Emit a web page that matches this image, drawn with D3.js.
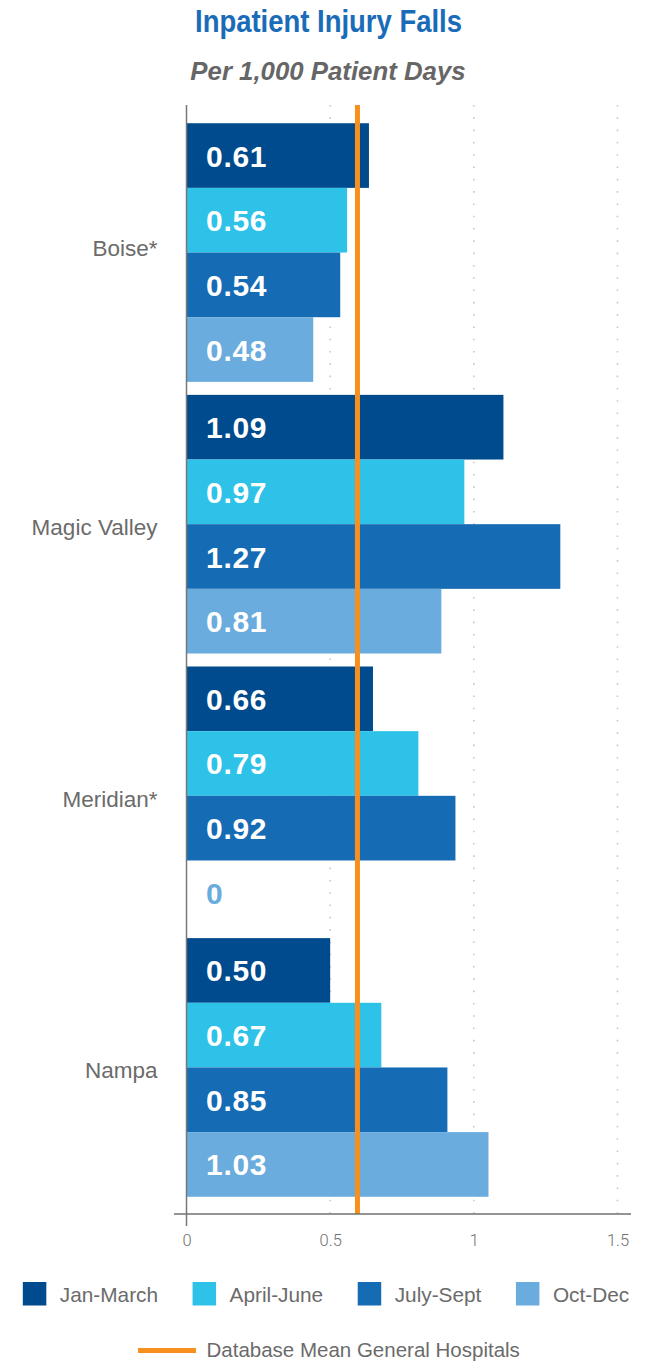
<!DOCTYPE html>
<html>
<head>
<meta charset="utf-8">
<script src="https://cdn.jsdelivr.net/npm/d3@7"></script>
<style>
  html, body { margin: 0; padding: 0; background: #fff; }
  svg { display: block; }
</style>
</head>
<body>
<svg id="chart" width="652" height="1363"></svg>
<script>
// ---- data ----
const categories = ["Boise*", "Magic Valley", "Meridian*", "Nampa"];
const quarters = ["Jan-March", "April-June", "July-Sept", "Oct-Dec"];
// bar lengths as drawn in the picture
const janMarch  = [0.635, 1.103, 0.649, 0.50];
const aprilJune = [0.559, 0.967, 0.807, 0.678];
const julySept  = [0.535, 1.301, 0.936, 0.908];
const octDec    = [0.441, 0.887, 0,     1.051];
// printed labels
const janMarchLabels  = ["0.61", "1.09", "0.66", "0.50"];
const aprilJuneLabels = ["0.56", "0.97", "0.79", "0.67"];
const julySeptLabels  = ["0.54", "1.27", "0.92", "0.85"];
const octDecLabels    = ["0.48", "0.81", "0", "1.03"];
const meanValue = 0.595;
const tickValues = [0, 0.5, 1, 1.5];
const tickLabels = ["0", "0.5", "1", "1.5"];
const titleText = "Inpatient Injury Falls";
const subtitleText = "Per 1,000 Patient Days";
const meanLabel = "Database Mean General Hospitals";

const colors = ["#004b8d", "#2ec2e8", "#166bb5", "#6aacde"];
const seriesValues = [janMarch, aprilJune, julySept, octDec];
const seriesLabels = [janMarchLabels, aprilJuneLabels, julySeptLabels, octDecLabels];

const rows = [];
categories.forEach((c, ci) => {
  quarters.forEach((q, qi) => {
    rows.push({cat: c, q: q, qi: qi, v: seriesValues[qi][ci], label: seriesLabels[qi][ci]});
  });
});

const svg = d3.select("#chart");
const textGray = "#6b6b6b";

// ---- scales ----
const x = d3.scaleLinear().domain([0, 1.5]).range([186.5, 617.5]);
const y = d3.scaleBand().domain(categories).range([106, 1214]).paddingInner(0.0478).paddingOuter(0.0634);
const yq = d3.scaleBand().domain(quarters).range([0, y.bandwidth()]).padding(0);
const plotTop = 105, plotBottom = 1214;

// ---- title ----
svg.append("text")
  .attr("x", 328.5).attr("y", 32)
  .attr("text-anchor", "middle")
  .attr("textLength", 267)
  .attr("lengthAdjust", "spacingAndGlyphs")
  .style("font-family", "'Liberation Sans', Arial, sans-serif")
  .style("font-weight", "bold")
  .style("font-size", "30.5px")
  .attr("fill", "#1a6cb8")
  .text(titleText);

svg.append("text")
  .attr("x", 328).attr("y", 80)
  .attr("text-anchor", "middle")
  .style("font-family", "'Liberation Sans', Arial, sans-serif")
  .style("font-weight", "bold")
  .style("font-style", "italic")
  .style("font-size", "25.8px")
  .attr("fill", "#666666")
  .text(subtitleText);

// ---- gridlines ----
svg.append("g").selectAll("line")
  .data(tickValues.filter(d => d > 0))
  .join("line")
  .attr("x1", d => x(d)).attr("x2", d => x(d))
  .attr("y1", plotTop).attr("y2", plotBottom)
  .attr("stroke", "#c8c8c8")
  .attr("stroke-width", 1.6)
  .attr("stroke-dasharray", "1.6,10.7");

// ---- bars ----
const g = svg.append("g");
g.selectAll("rect")
  .data(rows)
  .join("rect")
  .attr("x", x(0))
  .attr("y", d => y(d.cat) + yq(d.q))
  .attr("width", d => x(d.v) - x(0))
  .attr("height", yq.bandwidth())
  .attr("fill", d => colors[d.qi]);

// ---- mean line ----
svg.append("line")
  .attr("x1", x(meanValue)).attr("x2", x(meanValue))
  .attr("y1", plotTop).attr("y2", plotBottom)
  .attr("stroke", "#f7901e")
  .attr("stroke-width", 5);

// ---- bar labels ----
g.selectAll("text.val")
  .data(rows)
  .join("text")
  .attr("class", "val")
  .attr("x", x(0) + 19.5)
  .attr("y", d => y(d.cat) + yq(d.q) + yq.bandwidth() / 2 + 11)
  .style("font-family", "'Liberation Sans', Arial, sans-serif")
  .style("font-weight", "bold")
  .style("font-size", "30px")
  .style("letter-spacing", "0.7px")
  .attr("fill", d => d.v === 0 ? colors[d.qi] : "#ffffff")
  .text(d => d.label);

// ---- axes ----
svg.append("line")
  .attr("x1", 174).attr("x2", 631)
  .attr("y1", plotBottom).attr("y2", plotBottom)
  .attr("stroke", "#707070").attr("stroke-width", 1.5);
svg.append("line")
  .attr("x1", x(0)).attr("x2", x(0))
  .attr("y1", plotTop).attr("y2", 1226)
  .attr("stroke", "#777").attr("stroke-width", 1.5);

const xAxis = d3.axisBottom(x)
  .tickValues(tickValues)
  .tickSize(0)
  .tickPadding(0)
  .tickFormat((d, i) => tickLabels[i]);
const axG = svg.append("g").attr("transform", `translate(0,${plotBottom})`).call(xAxis);
axG.select(".domain").remove();
axG.selectAll("text")
  .attr("dy", null)
  .attr("y", 32)
  .style("font-family", "Roboto, 'Liberation Sans', sans-serif")
  .style("font-weight", "300")
  .style("font-size", "16.5px")
  .attr("fill", "#707070");

// ---- category labels ----
const labelNudge = {"Boise*": -8};
svg.append("g").selectAll("text")
  .data(categories)
  .join("text")
  .attr("x", 157.5)
  .attr("y", d => y(d) + y.bandwidth() / 2 + 11 + (labelNudge[d] || 0))
  .attr("text-anchor", "end")
  .style("font-family", "'Liberation Sans', Arial, sans-serif")
  .style("font-size", "22.5px")
  .attr("fill", textGray)
  .text(d => d);

// ---- legend ----
const leg = svg.append("g");
const items = leg.selectAll("g").data(quarters).join("g");
items.append("rect")
  .attr("width", 23.5).attr("height", 23.5)
  .attr("y", 1282)
  .attr("fill", (d, i) => colors[i]);
items.append("text")
  .attr("y", 1302)
  .style("font-family", "'Liberation Sans', Arial, sans-serif")
  .style("font-size", "20.8px")
  .attr("fill", textGray)
  .text(d => d);
// layout legend items horizontally, centred
const textOffset = 37, gap = 34.5;
let widths = [];
items.select("text").each(function () { widths.push(this.getComputedTextLength()); });
const total = d3.sum(widths.map(w => textOffset + w)) + gap * (quarters.length - 1);
let cx = 326 - total / 2;
items.each(function (d, i) {
  d3.select(this).select("rect").attr("x", cx);
  d3.select(this).select("text").attr("x", cx + textOffset);
  cx += textOffset + widths[i] + gap;
});

svg.append("line")
  .attr("x1", 138).attr("x2", 196)
  .attr("y1", 1350.5).attr("y2", 1350.5)
  .attr("stroke", "#f7901e").attr("stroke-width", 5);
svg.append("text")
  .attr("x", 206.5).attr("y", 1357)
  .style("font-family", "'Liberation Sans', Arial, sans-serif")
  .style("font-size", "20.5px")
  .attr("fill", textGray)
  .text(meanLabel);
</script>
</body>
</html>
